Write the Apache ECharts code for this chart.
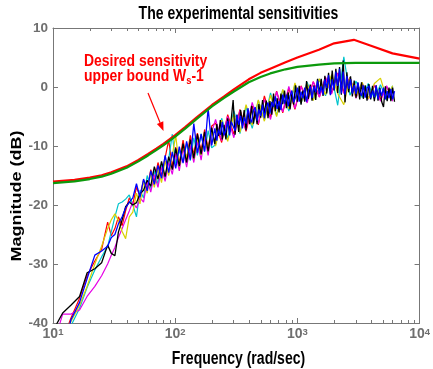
<!DOCTYPE html>
<html>
<head>
<meta charset="utf-8">
<script src="https://cdn.jsdelivr.net/npm/echarts@6/dist/echarts.min.js"></script>
<style>
  html, body { margin: 0; padding: 0; background: #ffffff; }
  #chart { width: 433px; height: 369px; }
</style>
</head>
<body>
<div id="chart"></div>
<script>
// Frequency grids (rad/sec)
const freqLo = [10.5, 12, 14, 16.5, 19, 22, 25, 28, 30, 32.1, 34.3, 36.8, 39.3, 42.1, 45, 48.2, 51.5, 55.1, 59, 63.1,
  67.5, 72.3, 77.3, 82.7, 88.5, 94.7, 101, 108, 116, 124, 133, 142, 152, 163, 174, 186, 199];
const freqHi = [211, 219, 226, 234, 243, 251, 260, 269, 279, 288, 298, 309, 320, 331, 343, 355, 367, 380, 394, 407,
  422, 437, 452, 468, 484, 501, 519, 537, 556, 575, 596, 617, 638, 661, 684, 708, 733, 759, 785, 813,
  841, 871, 902, 933, 966, 1000, 1035, 1072, 1109, 1148, 1189, 1230, 1274, 1318, 1365, 1413, 1462, 1514, 1567, 1622,
  1679, 1738, 1799, 1862, 1928, 1995, 2065, 2138, 2213, 2291, 2371, 2455, 2541, 2630, 2723, 2818, 2917, 3020, 3126, 3236,
  3350, 3467, 3589, 3715, 3846, 3981, 4121, 4266, 4416, 4571, 4732, 4898, 5070, 5248, 5433, 5623, 5821, 6026, 6237];
const freqMid = [214, 240, 269, 302, 339, 380, 427, 479, 537, 603, 676, 759, 851, 955, 1072, 1202, 1349, 1514, 1698, 1905,
  2138, 2399, 2692, 3020, 3388, 3802, 4266, 4786, 5370, 6026];

// Measured sensitivity magnitudes (dB), one array per experiment
const blackLo = [-40.5, -38.3, -37.0, -35.5, -31.5, -30.8, -29.8, -26.8, -28.2, -28.6, -24.6, -22.5, -20.3, -19.5, -20.0,
  -19.6, -18.1, -17.5, -15.8, -16.8, -13.5, -15.6, -12.6, -15.2, -11.8, -14.0, -10.4, -13.4, -9.6, -12.8, -8.9, -12.1,
  -8.0, -11.4, -7.6, -10.9, -6.9];
const blackHi = [-9.7, -6.3, -8.3, -5.6, -8.9, -6.4, -8.9, -5.3, -7.6, -5.3,
  -2.2, -8.1, -4.7, -7.6, -3.9, -6.2, -3.9, -7.3, -4.0, -6.3,
  -3.2, -6.2, -4.0, -6.3, -2.9, -5.2, -2.2, -4.5, -2.3, -5.3,
  -2.4, -4.7, -1.1, -4.1, -1.9, -4.3, -1.1, -2.9, -0.6, -3.6,
  -0.9, -3.8, -1.1, -3.0, 0.3, -2.5, 0.2, -3.0, -0.6, -2.5,
  1.0, -2.0, 0.4, -2.3, 0.3, -2.2, 1.4, -1.1, 1.4, -1.5,
  1.9, -1.1, 2.4, -1.2, 2.8, -0.6, 3.1, -1.0, 3.4, -1.3,
  4.5, -2.6, 2.5, -0.9, 1.8, -1.6, 1.1, -1.8, 0.7, -2.1,
  0.8, -2.0, 0.3, -2.3, 0.5, -2.1, 0.2, -2.4, 0.3, -2.3,
  -0.1, -2.5, -3.4, 0.1, -2.4, -0.1, -2.4, -0.1, -2.5];
const blueLo = [-48, -45, -39.5, -36.5, -32.5, -28.5, -27.8, -27.0, -25.5, -25.0, -23.2, -22.0, -20.5, -19.5, -18.8,
  -16.4, -18.7, -15.6, -17.6, -14.2, -16.5, -13.3, -15.5, -11.6, -14.5, -11.0, -13.8, -10.1, -12.9, -9.2, -12.3, -6.2,
  -11.2, -8.0, -10.9, -3.6, -9.9];
const blueHi = [-7.0, -9.1, -7.2, -8.1, -5.9, -8.2, -7.3, -5.8, -8.2, -5.9,
  -6.2, -7.4, -4.7, -6.4, -4.9, -7.0, -5.1, -6.2, -3.6, -5.2,
  -6.0, -4.0, -3.4, -5.7, -3.8, -4.9, -3.0, -5.3, -3.5, -2.6,
  -4.5, -2.5, -3.4, -1.6, -3.7, -2.4, -3.9, -1.3, -2.8, -1.3,
  -3.3, -1.5, -0.6, -2.6, -1.8, -0.1, -2.5, -0.8, -1.9, -0.1,
  -2.5, -0.6, 0.1, -1.9, 0.1, -0.9, 1.1, -1.2, 0.1, -1.3,
  1.3, -0.2, 2.0, -1.4, 1.3, -0.5, 2.6, 0.2, 3.1, -1.1,
  2.6, -1.3, 1.9, -0.3, 1.3, -1.1, 0.3, -1.2, 0.8, -0.8,
  -1.5, 0.3, -1.8, -0.2, 0.2, -1.9, -0.6, -1.7, 0.2, -2.1,
  -0.3, -1.5, -0.1, -2.1, -0.7, -1.9, -0.3, -2.1, -0.7];
const redLo = [-46, -43, -39.2, -35.8, -32.0, -29.5, -27.5, -22.9, -25.2, -24.0, -22.0, -23.5, -21.0, -18.8, -19.8,
  -17.0, -18.5, -15.8, -17.3, -14.0, -16.0, -12.8, -15.0, -12.0, -9.0, -13.5, -10.2, -12.9, -9.0, -12.3, -8.2, -11.5,
  -7.8, -10.9, -7.2, -10.5, -6.6];
const redHi = [-6.1, -9.4, -4.7, -8.0, -3.8, -7.5, -3.2, -6.4, -1.5, -5.1, -0.7, -4.4, -0.2, -3.8, 0.2, -2.4, 0.9, -1.7,
  1.5, -1.0, 2.4, -0.8, 1.6, -1.6, 0.6, -2.0, 0.3, -2.1, 0.1, -2.1];
const cyanLo = [-47, -44, -40.5, -37.5, -34.0, -31.0, -28.8, -27.0, -24.5, -22.0, -19.8, -19.5, -19.0, -18.3, -20.0,
  -22.0, -17.5, -18.8, -15.0, -17.2, -14.2, -16.4, -13.0, -15.5, -12.2, -8.0, -13.0, -10.8, -12.6, -9.5, -12.5, -8.6,
  -11.6, -7.9, -11.0, -7.4, -10.3];
const cyanHi = [-9.8, -5.3, -8.7, -4.0, -7.9, -3.4, -7.0, -2.3, -5.6, -1.0, -4.8, -0.5, -4.1, 0.4, -2.8, 0.8, -2.2, 1.3,
  -1.5, 1.9, -3.1, 5.1, -1.4, 1.0, -1.8, 0.6, -2.0, 0.4, -2.2, 0.2];
const magentaLo = [-42.5, -38.5, -38.5, -37.8, -35.5, -33.8, -32.0, -30.0, -28.5, -27.2, -25.5, -24.0, -22.5, -21.0,
  -19.5, -20.5, -18.8, -19.5, -15.8, -17.8, -14.8, -17.0, -13.6, -16.0, -12.8, -14.8, -11.2, -14.2, -10.4, -13.6, -9.9,
  -12.8, -9.2, -12.4, -8.4, -11.6, -7.7];
const magentaHi = [-5.5, -9.1, -5.0, -8.6, -4.0, -7.3, -2.6, -6.2, -2.1, -5.5, -0.8, -4.2, 0.1, -3.6, 0.1, -2.7, 0.9,
  -1.7, 1.7, -1.2, 2.3, -1.1, 1.6, -1.9, 0.7, -2.1, 0.4, -2.4, 0.2, -2.4];
const yellowLo = [-45, -42, -39.8, -37.0, -33.8, -30.0, -27.0, -24.0, -22.5, -21.5, -22.6, -24.5, -25.7, -22.0, -21.2,
  -18.0, -19.8, -16.0, -18.0, -14.6, -17.0, -13.8, -16.2, -12.5, -15.0, -11.6, -8.2, -13.5, -10.0, -12.0, -9.0, -12.2,
  -8.6, -11.5, -8.0, -10.7, -7.5];
const yellowHi = [-10.0, -5.6, -9.2, -4.6, -7.7, -3.0, -6.5, -2.2, -5.8, -1.4, -5.0, -0.4, -3.7, 0.7, -2.7, 0.5, -2.3,
  1.4, -1.3, 2.1, -1.1, -3.0, 1.6, -1.7, 0.8, -2.0, 0.6, 1.5, -1.9, 0.2];

// Desired sensitivity upper bound Ws^-1 (two versions)
const wsFreq = [10, 15, 20, 25, 30, 40, 50, 60, 70, 80, 100, 120, 150, 200, 250, 300, 400, 500, 600, 800, 1000, 1500,
  2000, 3000, 5000, 10000];
const wsGreen = [-16.3, -16.0, -15.6, -15.2, -14.7, -13.7, -12.6, -11.6, -10.7, -9.9, -8.4, -7.1, -5.4, -3.3, -1.9,
  -0.8, 0.8, 1.7, 2.3, 3.0, 3.4, 3.8, 4.0, 4.1, 4.1, 4.1];
const wsRedFreq = [10, 15, 20, 25, 30, 40, 50, 60, 70, 80, 100, 120, 150, 200, 250, 300, 400, 500, 600, 800, 1000, 1500,
  2000, 2900, 4000, 6000, 10000];
const wsRed = [-16.05, -15.75, -15.35, -14.95, -14.45, -13.45, -12.35, -11.35, -10.45, -9.65, -8.15, -6.85, -5.15,
  -3.05, -1.65, -0.45, 1.3, 2.4, 3.1, 4.2, 5.0, 6.3, 7.4, 8.0, 7.0, 5.7, 4.8];

// Axis ticks
const xTickValues = [10, 100, 1000, 10000];
const xTickPowers = ['1', '2', '3', '4'];
const xMinorTicks = [20, 30, 40, 50, 60, 70, 80, 90, 200, 300, 400, 500, 600, 700, 800, 900,
  2000, 3000, 4000, 5000, 6000, 7000, 8000, 9000];
const yTicks = [-40, -30, -20, -10, 0, 10];

const AXIS = '#777777';
const LABEL = '#6e6e6e';
const FONT = '"Liberation Sans", Arial, Helvetica, sans-serif';
const SQUEEZE = 0.78;

function pairs(fs, vs) { return fs.map((f, i) => [f, vs[i]]); }
function trace(lo, fHi, hi) { return pairs(freqLo, lo).concat(pairs(fHi, hi)); }

function noisy(name, color, data, width) {
  return {
    name, type: 'line', data, symbol: 'none', clip: true, silent: true,
    lineStyle: { color, width: width || 1.2 }, itemStyle: { color },
    animation: false
  };
}

const yMin = yTicks[0], yMax = yTicks[yTicks.length - 1];

const axisCommon = {
  axisLine: { show: true, onZero: false, lineStyle: { color: AXIS, width: 1 } },
  axisTick: { show: true, inside: true, length: 5, lineStyle: { color: AXIS, width: 1 } },
  splitLine: { show: false },
  minorTick: { show: false }
};

const chart = echarts.init(document.getElementById('chart'), null, { renderer: 'canvas' });

chart.setOption({
  animation: false,
  backgroundColor: '#ffffff',
  grid: { left: 53, right: 9, top: 28, bottom: 46, containLabel: false },
  xAxis: [
    Object.assign({
      type: 'log', logBase: 10, min: xTickValues[0], max: xTickValues[xTickValues.length - 1], position: 'bottom',
      axisLabel: {
        margin: 4, showMinLabel: true, showMaxLabel: true,
        formatter: v => {
          const i = xTickValues.indexOf(Math.round(v));
          return i < 0 ? '' : '{b|10}{e|' + xTickPowers[i] + '}';
        },
        rich: {
          b: { fontSize: 14, fontWeight: 'bold', fontFamily: FONT, color: LABEL, verticalAlign: 'bottom' },
          e: { fontSize: 9.5, fontWeight: 'bold', fontFamily: FONT, color: LABEL, verticalAlign: 'top' }
        }
      }
    }, axisCommon),
    Object.assign({
      type: 'log', logBase: 10, min: xTickValues[0], max: xTickValues[xTickValues.length - 1], position: 'top',
      axisLabel: { show: false }
    }, axisCommon)
  ],
  yAxis: [
    Object.assign({
      type: 'value', min: yMin, max: yMax, interval: 10, position: 'left',
      axisLabel: { margin: 5, fontSize: 13.5, fontWeight: 'bold', fontFamily: FONT, color: LABEL }
    }, axisCommon),
    Object.assign({
      type: 'value', min: yMin, max: yMax, interval: 10, position: 'right',
      axisLabel: { show: false }
    }, axisCommon)
  ],
  series: [
    noisy('run 3', '#ff0000', trace(redLo, freqMid, redHi)),
    noisy('run 4', '#00c4cc', trace(cyanLo, freqMid, cyanHi)),
    noisy('run 5', '#e600e6', trace(magentaLo, freqMid, magentaHi)),
    noisy('run 6', '#d8d000', trace(yellowLo, freqMid, yellowHi)),
    noisy('run 1', '#000000', trace(blackLo, freqHi, blackHi), 1.3),
    noisy('run 2', '#0000ff', trace(blueLo, freqHi, blueHi), 1.3),
    {
      name: 'Ws^-1 (a)', type: 'line', data: pairs(wsRedFreq, wsRed), symbol: 'none', silent: true,
      lineStyle: { color: '#ff0000', width: 2.2 }, animation: false
    },
    {
      name: 'Ws^-1 (b)', type: 'line', data: pairs(wsFreq, wsGreen), symbol: 'none', silent: true,
      lineStyle: { color: '#0c9a0c', width: 2.2 }, animation: false
    },
    {
      // minor decade ticks on bottom and top edges
      name: 'minor ticks', type: 'custom', silent: true, animation: false,
      data: xMinorTicks.map(f => [f, yMin]),
      encode: { x: 0, y: 1 },
      renderItem: (params, api) => {
        const f = api.value(0);
        const b = api.coord([f, yMin]);
        const t = api.coord([f, yMax]);
        const x = Math.round(b[0]) + 0.5;
        return {
          type: 'group',
          children: [
            { type: 'line', shape: { x1: x, y1: b[1], x2: x, y2: b[1] - 3 }, style: { stroke: AXIS, lineWidth: 1 } },
            { type: 'line', shape: { x1: x, y1: t[1], x2: x, y2: t[1] + 3 }, style: { stroke: AXIS, lineWidth: 1 } }
          ]
        };
      }
    }
  ],
  graphic: [
    {
      type: 'text', x: 238.5, y: 14, scaleX: SQUEEZE, silent: true,
      style: { text: 'The experimental sensitivities', fontSize: 18, fontWeight: 'bold', fontFamily: FONT,
        fill: '#000000', align: 'center', verticalAlign: 'middle' }
    },
    {
      type: 'text', x: 238.5, y: 359, scaleX: SQUEEZE, silent: true,
      style: { text: 'Frequency (rad/sec)', fontSize: 18, fontWeight: 'bold', fontFamily: FONT,
        fill: '#000000', align: 'center', verticalAlign: 'middle' }
    },
    {
      type: 'text', x: 17, y: 196, rotation: Math.PI / 2, scaleY: SQUEEZE, silent: true,
      style: { text: 'Magnitude (dB)', fontSize: 18, fontWeight: 'bold', fontFamily: FONT,
        fill: '#000000', align: 'center', verticalAlign: 'middle' }
    },
    {
      type: 'text', x: 84, y: 61.5, scaleX: 0.82, silent: true,
      style: { text: 'Desired sensitivity', fontSize: 17, fontWeight: 'bold', fontFamily: FONT,
        fill: '#ff0000', align: 'left', verticalAlign: 'middle' }
    },
    {
      type: 'text', x: 84, y: 67.5, scaleX: 0.82, silent: true,
      style: {
        text: '{n|upper bound W}{s|s}{n|-1}', align: 'left', verticalAlign: 'top',
        rich: {
          n: { fontSize: 17, lineHeight: 17, fontWeight: 'bold', fontFamily: FONT, fill: '#ff0000', verticalAlign: 'top' },
          s: { fontSize: 11.5, lineHeight: 12, fontWeight: 'bold', fontFamily: FONT, fill: '#ff0000', verticalAlign: 'top',
            padding: [7, 0, 0, 0] }
        }
      }
    },
    {
      type: 'line', silent: true,
      shape: { x1: 148, y1: 93, x2: 160.1, y2: 122.7 },
      style: { stroke: '#ff0000', lineWidth: 1.2 }
    },
    {
      type: 'polygon', silent: true,
      shape: { points: [[163.5, 131], [156.9, 124], [163.3, 121.3]] },
      style: { fill: '#ff0000' }
    }
  ]
});
</script>
</body>
</html>
